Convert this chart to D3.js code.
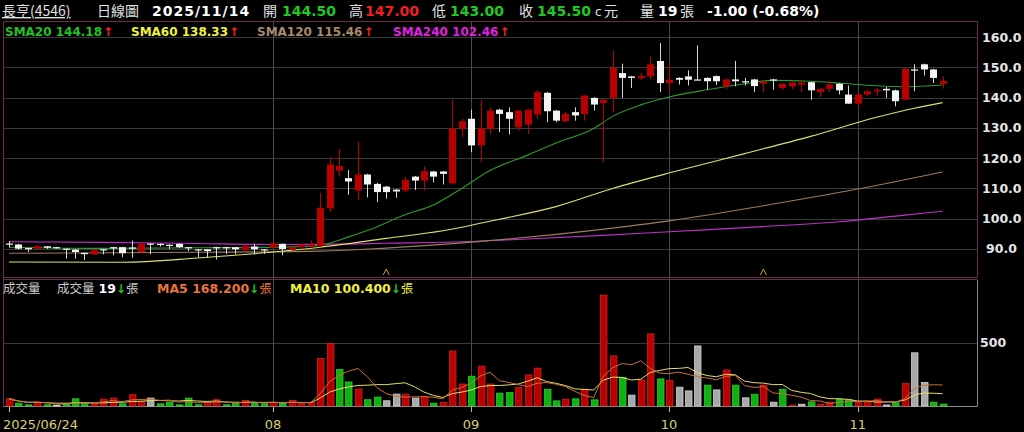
<!DOCTYPE html>
<html><head><meta charset="utf-8">
<script src="https://cdn.jsdelivr.net/npm/d3@7"></script>
<style>html,body{margin:0;padding:0;background:#000;overflow:hidden}svg{display:block}</style>
</head><body>
<svg id="c" width="1024" height="432"></svg>
<script>
// ---------- data ----------
const dates = [
"2025/06/24","2025/06/25","2025/06/26","2025/06/27","2025/06/30",
"2025/07/01","2025/07/02","2025/07/03","2025/07/04","2025/07/07","2025/07/08","2025/07/09","2025/07/10","2025/07/11",
"2025/07/14","2025/07/15","2025/07/16","2025/07/17","2025/07/18","2025/07/21","2025/07/22","2025/07/23","2025/07/24","2025/07/25",
"2025/07/28","2025/07/29","2025/07/30","2025/07/31",
"2025/08/01","2025/08/04","2025/08/05","2025/08/06","2025/08/07","2025/08/08","2025/08/11","2025/08/12","2025/08/13","2025/08/14",
"2025/08/15","2025/08/18","2025/08/19","2025/08/20","2025/08/21","2025/08/22","2025/08/25","2025/08/26","2025/08/27","2025/08/28","2025/08/29",
"2025/09/01","2025/09/02","2025/09/03","2025/09/04","2025/09/05","2025/09/08","2025/09/09","2025/09/10","2025/09/11","2025/09/12",
"2025/09/15","2025/09/16","2025/09/17","2025/09/18","2025/09/19","2025/09/22","2025/09/23","2025/09/24","2025/09/25","2025/09/26","2025/09/30",
"2025/10/01","2025/10/02","2025/10/03","2025/10/07","2025/10/08","2025/10/09","2025/10/13","2025/10/14","2025/10/15","2025/10/16",
"2025/10/17","2025/10/20","2025/10/21","2025/10/22","2025/10/23","2025/10/27","2025/10/28","2025/10/29","2025/10/30","2025/10/31",
"2025/11/03","2025/11/04","2025/11/05","2025/11/06","2025/11/07","2025/11/10","2025/11/11","2025/11/12","2025/11/13","2025/11/14"];

const open  = [91.8,91.5,90.3,90.1,90.9,90.6,90.1,89.8,88.7,88.2,89.9,90.6,90.6,90.5,89.0,91.8,91.7,91.4,91.7,90.6,
  89.9,89.9,90.6,90.6,90.6,89.7,90.8,89.9,90.4,91.7,89.7,90.6,90.8,91.0,103.4,115.9,113.4,109.3,114.6,111.5,
  110.6,109.6,109.3,113.9,112.6,115.6,115.6,111.7,129.7,133.0,124.2,129.7,136.0,135.2,130.2,131.1,134.4,141.6,135.7,132.2,
  135.2,134.6,139.9,138.2,139.9,148.1,147.0,146.4,147.0,152.1,144.8,146.5,147.0,146.0,146.5,147.1,143.7,146.0,145.4,146.0,
  144.6,146.0,143.2,143.7,144.3,145.1,141.8,142.9,144.6,141.0,138.0,141.0,142.1,142.9,142.4,139.3,149.3,151.0,149.3,144.5];
const high  = [92.6,91.7,90.4,91.2,91.0,90.7,90.2,89.9,88.8,89.8,90.0,90.7,90.7,92.8,92.0,91.9,91.8,91.5,91.8,90.7,
  90.0,90.0,90.7,90.7,90.7,91.2,91.7,90.0,92.2,91.8,90.8,91.6,92.8,108.4,120.5,123.0,116.1,125.5,114.8,111.8,
  110.8,109.8,113.9,114.1,117.3,115.8,115.8,139.2,133.0,136.0,139.1,136.8,136.3,136.8,135.9,136.2,142.4,141.8,135.9,135.4,
  136.8,140.9,140.1,139.5,155.4,151.2,147.2,148.1,153.6,158.0,150.8,146.7,149.0,157.2,146.7,147.3,146.2,152.1,146.5,146.2,
  145.5,146.2,144.8,145.2,145.2,145.3,143.1,145.7,144.8,144.0,141.2,142.3,143.2,143.5,142.6,149.7,151.0,151.2,149.5,147.0];
const low   = [90.5,89.8,89.0,90.0,90.0,90.2,86.8,86.8,86.4,88.0,88.2,87.9,87.3,87.1,88.6,88.2,90.8,90.0,90.3,89.3,
  87.3,87.1,86.5,88.4,88.2,89.0,88.2,88.4,90.2,87.9,89.5,90.4,90.6,90.8,102.2,113.9,107.9,106.2,107.0,105.5,
  106.6,106.9,108.7,109.5,109.3,112.0,111.3,111.5,126.9,122.0,118.7,128.0,128.6,127.8,129.1,128.0,133.0,131.9,131.9,132.0,
  132.4,132.4,135.7,118.7,135.2,139.9,143.2,145.7,145.9,141.8,141.8,144.3,144.0,145.7,142.6,144.2,142.9,143.7,144.0,141.8,
  141.8,142.6,142.6,142.9,141.8,139.3,140.2,141.8,141.0,138.0,137.1,140.4,140.7,139.9,137.1,139.1,142.1,147.3,144.8,143.0];
const close = [91.5,90.1,90.2,91.0,90.4,90.5,90.0,89.0,88.6,89.6,89.8,90.5,88.6,90.4,91.7,91.7,91.6,91.3,90.6,90.5,
  89.8,89.3,90.5,90.5,89.9,91.0,89.9,89.8,91.9,90.0,90.6,91.5,91.5,103.6,117.9,117.4,112.3,114.6,111.3,108.8,
  108.8,109.0,112.9,112.6,115.7,113.9,114.8,129.8,132.2,124.2,129.9,135.7,134.6,133.0,135.7,136.0,141.8,135.5,132.4,134.6,
  134.1,140.7,137.7,139.3,149.9,146.5,146.5,147.1,151.0,144.8,145.9,145.9,145.9,145.9,145.4,145.4,146.0,145.4,145.3,143.8,
  145.3,145.8,144.6,145.0,145.0,142.4,142.9,144.3,142.4,138.0,141.0,142.1,142.6,142.4,138.8,149.5,149.1,149.3,146.5,145.5];
const volume = [60,26,13,34,13,10,21,60,26,21,58,66,21,92,39,66,21,32,13,66,
  13,32,53,13,26,47,32,21,32,26,47,21,32,376,494,289,192,137,53,74,
  45,97,97,66,79,26,32,434,176,237,316,176,104,109,148,247,300,135,44,57,
  60,135,52,872,396,227,89,208,568,216,203,151,122,474,167,130,286,167,68,96,
  167,34,135,10,18,36,18,34,57,52,30,34,58,12,29,180,420,188,34,19];
// 1 = up vs previous close, -1 = down, 0 = flat
const volDir = [1,-1,-1,1,-1,0,-1,-1,-1,1,1,1,-1,1,1,0,-1,-1,-1,-1,
  -1,1,1,-1,-1,1,-1,-1,1,-1,1,1,1,1,1,-1,-1,1,-1,-1,
  0,0,1,0,1,-1,1,1,1,-1,1,1,-1,-1,1,1,1,-1,-1,1,
  -1,1,-1,1,1,-1,0,1,1,-1,1,0,0,0,-1,0,1,-1,0,-1,
  1,0,-1,1,0,-1,1,1,-1,-1,1,1,1,0,-1,1,0,0,-1,-1];

// moving averages of price: [day index, value]
const sma20  = [[0,90.6],[10,90.2],[20,90.4],[30,90.7],[33,91.2],[36,94.0],[38,96.1],[42,101.3],[45,104.5],[48,110.0],[51,115.9],
  [55,121.0],[58,125.0],[62,129.8],[64,133.8],[67,137.6],[70,140.2],[74,142.6],[78,144.6],[81,145.7],[85,145.4],[88,144.8],[92,143.9],[95,143.6],[99,144.18]];
const sma60  = [[0,85.7],[12,85.6],[20,87.0],[28,89.0],[33,90.6],[40,93.5],[46,96.0],[52,99.8],[58,104.0],[64,110.0],[71,115.9],
  [78,121.5],[85,127.2],[92,133.5],[96,136.5],[99,138.33]];
const sma120 = [[0,88.6],[20,88.9],[33,89.3],[40,90.3],[50,92.5],[60,95.5],[70,99.3],[80,104.3],[90,109.8],[99,115.46]];
const sma240 = [[0,92.4],[10,92.2],[20,91.8],[28,91.5],[35,91.6],[40,91.9],[47,92.3],[55,93.3],[63,94.5],[70,95.7],[80,97.4],
  [88,99.0],[95,101.2],[99,102.46]];
const markers = [40, 80];

const priceTicks = [160,150,140,130,120,110,100,90];
const volTicks = [500];
const monthStarts = [28, 49, 70, 90];
const monthLabels = ["08","09","10","11"];

const header = {name:"長亨(4546)", kind:"日線圖", date:"2025/11/14", open:"144.50", high:"147.00", low:"143.00",
  close:"145.50", vol:"19", chg:"-1.00 (-0.68%)"};
const smaLegend = [["SMA20","144.18"],["SMA60","138.33"],["SMA120","115.46"],["SMA240","102.46"]];
const volLegend = {vol:"19", ma5:"168.200", ma10:"100.400"};

// ---------- drawing ----------
const svg = d3.select("#c");
const FONT = "'DejaVu Sans','Noto Sans CJK TC',sans-serif";
const CJK = "'Noto Sans CJK TC','DejaVu Sans',sans-serif";
const RED = "#b80000", WHITE = "#f4f4f4", GREEN = "#10b010", GRAY = "#a8a8a8";

const x = d3.scaleLinear().domain([0, 99]).range([9, 942.6]);
const y = d3.scaleLinear().domain([80.75, 165.3]).range([277, 21]);
const yv = d3.scaleLinear().domain([0, 990]).range([406.5, 280]);

svg.append("rect").attr("width",1024).attr("height",432).attr("fill","#000");

// grid
const g = svg.append("g");
g.selectAll(".hg").data(priceTicks).join("line")
  .attr("x1",4).attr("x2",977).attr("y1",d=>Math.round(y(d))+0.5).attr("y2",d=>Math.round(y(d))+0.5)
  .attr("stroke","#3a3a3a");
g.selectAll(".vg").data(volTicks).join("line")
  .attr("x1",4).attr("x2",977).attr("y1",d=>Math.round(yv(d))+0.5).attr("y2",d=>Math.round(yv(d))+0.5)
  .attr("stroke","#3a3a3a");
g.selectAll(".mg").data(monthStarts).join("line")
  .attr("x1",d=>Math.round(x(d))+0.5).attr("x2",d=>Math.round(x(d))+0.5).attr("y1",22).attr("y2",406)
  .attr("stroke","#4a4a4a");

// panel borders
svg.append("line").attr("x1",3.5).attr("x2",977.5).attr("y1",21.5).attr("y2",21.5).attr("stroke","#6a2c4a");
svg.append("line").attr("x1",3.5).attr("x2",3.5).attr("y1",21.5).attr("y2",406.5).attr("stroke","#6a2c4a");
svg.append("line").attr("x1",977.5).attr("x2",977.5).attr("y1",21.5).attr("y2",277.5).attr("stroke","#6a2c4a");
svg.append("line").attr("x1",3.5).attr("x2",977.5).attr("y1",277.5).attr("y2",277.5).attr("stroke","#6a2c4a");
svg.append("line").attr("x1",3.5).attr("x2",977.5).attr("y1",279.5).attr("y2",279.5).attr("stroke","#6a2c4a");
svg.append("line").attr("x1",977.5).attr("x2",977.5).attr("y1",280).attr("y2",406.5).attr("stroke","#8a8a8a");
svg.append("line").attr("x1",3.5).attr("x2",977.5).attr("y1",406.5).attr("y2",406.5).attr("stroke","#8a8a8a");

// axis ticks at bottom
const tickIdx = [0].concat(monthStarts);
svg.selectAll(".bt").data(tickIdx).join("line")
  .attr("x1",d=>Math.round(x(d))+0.5).attr("x2",d=>Math.round(x(d))+0.5).attr("y1",406).attr("y2",412)
  .attr("stroke","#c8c070");

// price labels
svg.selectAll(".pl").data(priceTicks).join("text")
  .attr("x", d=> d>=100 ? 982 : 986).attr("y", d=>y(d)+4.5)
  .attr("font-family",FONT).attr("font-weight","bold").attr("font-size",12.5).attr("fill","#e6e6e6")
  .text(d=>d.toFixed(1));
svg.selectAll(".vl").data(volTicks).join("text")
  .attr("x",980).attr("y",d=>yv(d)+4.5)
  .attr("font-family",FONT).attr("font-weight","bold").attr("font-size",12.5).attr("fill","#e6e6e6")
  .text(d=>d);

// x labels
svg.append("text").attr("x",3).attr("y",429).attr("font-family",FONT).attr("font-size",13).attr("fill","#d8cf70").text(dates[0]);
svg.selectAll(".ml").data(monthStarts).join("text")
  .attr("x",d=>x(d)).attr("y",429).attr("text-anchor","middle")
  .attr("font-family",FONT).attr("font-size",13).attr("fill","#d8cf70")
  .text((d,i)=>monthLabels[i]);

// SMA lines
svg.append("clipPath").attr("id","pclip").append("rect").attr("x",4).attr("y",22).attr("width",973).attr("height",255);
const line = d3.line().x(d=>x(d[0])).y(d=>y(d[1])).curve(d3.curveMonotoneX);
const lg = svg.append("g").attr("clip-path","url(#pclip)");
[[sma240,"#c030c8"],[sma120,"#9c7c5c"],[sma60,"#e0e070"],[sma20,"#2a9a2a"]].forEach(([d,c])=>{
  lg.append("path").attr("d",line(d)).attr("fill","none").attr("stroke",c).attr("stroke-width",1.1);
});

// candles
const idx = d3.range(open.length);
const cg = svg.append("g");
const up = i => close[i] > open[i];
const flat = i => Math.abs(close[i]-open[i]) < 0.15;
cg.selectAll(".wk").data(idx).join("line")
  .attr("x1",i=>Math.round(x(i))+0.5).attr("x2",i=>Math.round(x(i))+0.5)
  .attr("y1",i=>y(high[i])).attr("y2",i=>y(low[i]))
  .attr("stroke",i=> up(i)&&!flat(i) ? RED : "#d8d8d8").attr("stroke-width",1);
cg.selectAll(".bd").data(idx).join("rect")
  .attr("x",i=>Math.round(x(i))-3).attr("width",7)
  .attr("y",i=>y(Math.max(open[i],close[i])))
  .attr("height",i=>Math.max(1.2, Math.abs(y(open[i])-y(close[i]))))
  .attr("fill",i=> up(i)&&!flat(i) ? RED : WHITE);

// markers
svg.selectAll(".mk").data(markers).join("path")
  .attr("d",i=>{const cx=x(i); return `M${cx-3},275 L${cx},269 L${cx+3},275`;})
  .attr("fill","none").attr("stroke","#d0a030").attr("stroke-width",1);

// volume bars
const vcol = d => d>0 ? RED : d<0 ? GREEN : GRAY;
const vstroke = d => d>0 ? "#d02020" : d<0 ? "#30c830" : "#d0d0d0";
svg.selectAll(".vb").data(idx).join("rect")
  .attr("x",i=>Math.round(x(i))-3+0.5).attr("width",6.5)
  .attr("y",i=>yv(volume[i])).attr("height",i=>Math.max(0.5, yv(0)-yv(volume[i])-0.5))
  .attr("fill",i=>vcol(volDir[i])).attr("stroke",i=>vstroke(volDir[i])).attr("stroke-width",0.8);

// volume moving averages (computed from volume array)
function ma(n){ return idx.map(i=>{const s=volume.slice(Math.max(0,i-n+1), i+1); return [i, d3.mean(s)];}); }
const vline = d3.line().x(d=>x(d[0])).y(d=>yv(d[1]));
svg.append("path").attr("d",vline(ma(10))).attr("fill","none").attr("stroke","#e4dc6a").attr("stroke-width",1);
svg.append("path").attr("d",vline(ma(5))).attr("fill","none").attr("stroke","#c8703a").attr("stroke-width",1);

// ---------- header ----------
function t(xp, yp, str, fill, opts={}){
  return svg.append("text").attr("x",xp).attr("y",yp).attr("fill",fill)
    .attr("font-family",opts.cjk?CJK:FONT).attr("font-size",opts.size||14)
    .attr("font-weight",opts.bold?"bold":"normal")
    .attr("letter-spacing",opts.ls||0)
    .attr("text-decoration",opts.u?"underline":"none").text(str);
}
// chain pieces left to right; returns end x
function chain(x0, yp, parts){
  let cx = x0;
  parts.forEach(p=>{
    const el = t(cx + (p.gap||0), yp, p.s, p.c, p.o||{});
    cx = cx + (p.gap||0) + el.node().getComputedTextLength();
  });
  return cx;
}
const HY = 16;
t(2,HY,header.name,"#e0e0e0",{cjk:true,size:14,u:true});
t(97,HY,header.kind,"#e0e0e0",{cjk:true,size:14});
t(152,HY,header.date,"#ffffff",{bold:true,size:14,ls:1});
t(263,HY,"開","#e0e0e0",{cjk:true});
t(282,HY,header.open,"#22c822",{bold:true});
t(349,HY,"高","#e0e0e0",{cjk:true});
t(365,HY,header.high,"#f02020",{bold:true});
t(432,HY,"低","#e0e0e0",{cjk:true});
t(450,HY,header.low,"#22c822",{bold:true});
t(519,HY,"收","#e0e0e0",{cjk:true});
t(537,HY,header.close,"#22c822",{bold:true});
t(595,HY,"c","#e0e0e0",{size:12});
t(604,HY,"元","#e0e0e0",{cjk:true});
t(640,HY,"量","#e0e0e0",{cjk:true});
t(658,HY,header.vol,"#ffffff",{bold:true});
t(680,HY,"張","#e0e0e0",{cjk:true});
t(707,HY,header.chg,"#ffffff",{bold:true});

// SMA legend
const smaCols = ["#22c022","#f0f040","#a88a6c","#e020e0"];
const smaX = [5,131,257,393];
smaLegend.forEach((d,i)=>{
  chain(smaX[i],36,[{s:d[0]+" "+d[1],c:smaCols[i],o:{bold:true,size:12}},
                    {s:"↑",c:"#ff2020",o:{bold:true,size:12},gap:1}]);
});

// volume legend
const VY = 293;
t(3,VY,"成交量","#c8c8c8",{cjk:true,size:12.5});
chain(57,VY,[{s:"成交量",c:"#c8c8c8",o:{cjk:true,size:12.5}},
             {s:volLegend.vol,c:"#ffffff",o:{bold:true,size:12.5},gap:4},
             {s:"↓",c:"#22c822",o:{bold:true,size:12},gap:0},
             {s:"張",c:"#c8c8c8",o:{cjk:true,size:12.5},gap:0}]);
chain(157,VY,[{s:"MA5 "+volLegend.ma5,c:"#e8743a",o:{bold:true,size:12.5}},
              {s:"↓",c:"#22c822",o:{bold:true,size:12},gap:0},
              {s:"張",c:"#e8743a",o:{cjk:true,size:12.5},gap:0}]);
chain(290,VY,[{s:"MA10 "+volLegend.ma10,c:"#f0f040",o:{bold:true,size:12.5}},
              {s:"↓",c:"#22c822",o:{bold:true,size:12},gap:0},
              {s:"張",c:"#f0f040",o:{cjk:true,size:12.5},gap:0}]);
</script>
</body></html>
